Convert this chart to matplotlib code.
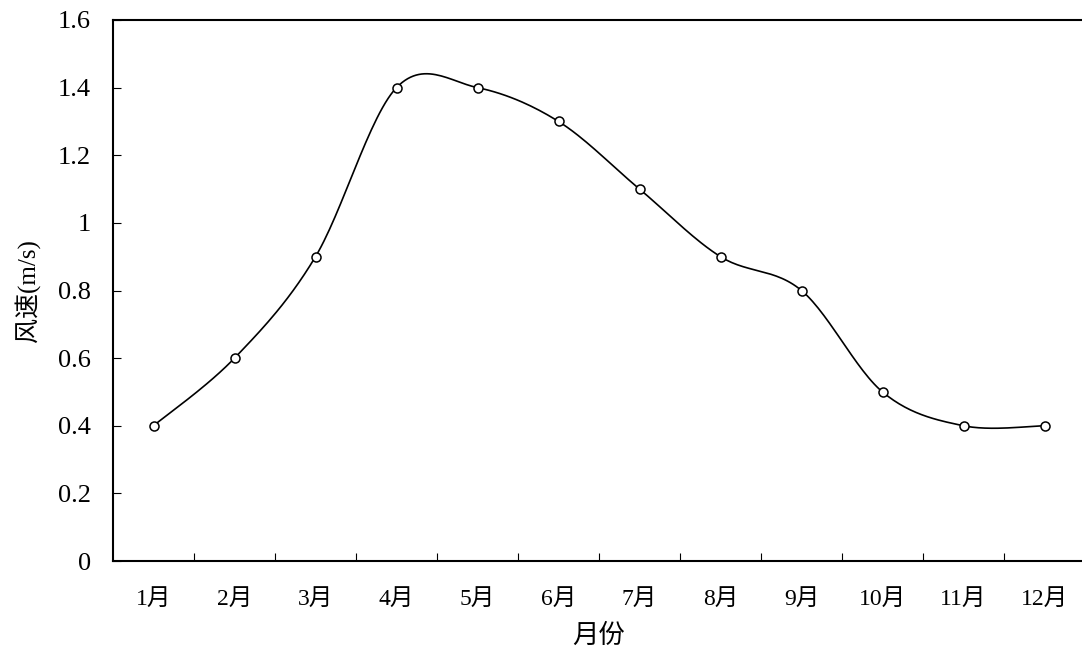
import numpy as np
import matplotlib
matplotlib.use("Agg")
import matplotlib.pyplot as plt

# --- data ---
months = ["1月", "2月", "3月", "4月", "5月", "6月", "7月", "8月", "9月", "10月", "11月", "12月"]
wind_speed = [0.4, 0.6, 0.9, 1.4, 1.4, 1.3, 1.1, 0.9, 0.8, 0.5, 0.4, 0.4]
y_ticks = [0, 0.2, 0.4, 0.6, 0.8, 1.0, 1.2, 1.4, 1.6]
y_ticklabels = ["0", "0.2", "0.4", "0.6", "0.8", "1", "1.2", "1.4", "1.6"]

FONT = ["Liberation Serif", "Noto Sans CJK SC"]
plt.rcParams['font.family'] = FONT


def smooth(x, y, n=30):
    """Excel-like smoothed line: cubic Bezier through points, tangent = (P[i+1]-P[i-1])/6."""
    x = np.asarray(x, float)
    y = np.asarray(y, float)
    xp = np.concatenate([[x[0]], x, [x[-1]]])
    yp = np.concatenate([[y[0]], y, [y[-1]]])
    xs, ys = [], []
    t = np.linspace(0, 1, n)
    for i in range(len(x) - 1):
        p0 = np.array([xp[i + 1], yp[i + 1]])
        p3 = np.array([xp[i + 2], yp[i + 2]])
        c1 = p0 + (np.array([xp[i + 2], yp[i + 2]]) - np.array([xp[i], yp[i]])) / 6
        c2 = p3 - (np.array([xp[i + 3], yp[i + 3]]) - np.array([xp[i + 1], yp[i + 1]])) / 6
        b = ((1 - t) ** 3)[:, None] * p0 + (3 * (1 - t) ** 2 * t)[:, None] * c1 \
            + (3 * (1 - t) * t ** 2)[:, None] * c2 + (t ** 3)[:, None] * p3
        xs.extend(b[:, 0])
        ys.extend(b[:, 1])
    return np.array(xs), np.array(ys)


fig = plt.figure(figsize=(10.82, 6.5), dpi=100)
ax = fig.add_axes([113 / 1082, 1 - 561 / 650, 972 / 1082, 541 / 650])

xpos = np.arange(len(months))
sx, sy = smooth(xpos, wind_speed)
ax.plot(sx, sy, color="black", linewidth=1.2, zorder=2)
ax.plot(xpos, wind_speed, linestyle="none", marker="o", markersize=6.5,
        markerfacecolor="white", markeredgecolor="black", markeredgewidth=1.1, zorder=3)

ax.set_xlim(-0.5, len(months) - 0.5)
ax.set_ylim(0, 1.6)
ax.set_yticks(y_ticks)
ax.set_yticklabels(y_ticklabels)
ax.set_xticks(xpos)
ax.set_xticklabels(months)
ax.set_xticks(np.arange(0.5, len(months) - 1, 1), minor=True)
ax.tick_params(axis="x", which="major", length=0, pad=20, labelsize=17)
ax.tick_params(axis="x", which="minor", direction="in", length=6, width=0.8)
ax.tick_params(axis="y", direction="in", length=6, width=0.8, pad=16, labelsize=19)

for side in ["left", "bottom", "top"]:
    ax.spines[side].set_linewidth(1.5)
ax.spines["right"].set_visible(False)

ax.set_xlabel("月份", fontsize=19, labelpad=10)
ax.set_ylabel("风速(m/s)", fontsize=18, labelpad=13)

fig.savefig("out.png", dpi=100)
